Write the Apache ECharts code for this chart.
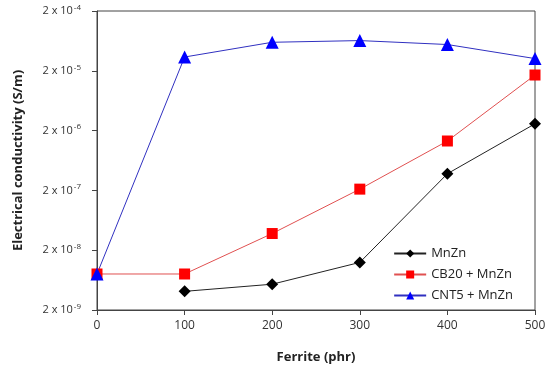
<!DOCTYPE html>
<html><head><meta charset="utf-8">
<script src="https://cdn.jsdelivr.net/npm/echarts@6/dist/echarts.min.js"></script>
<style>html,body{margin:0;padding:0;background:#fff}#c{width:550px;height:372px}</style>
</head><body><div id="c"></div>
<script>
const ferrite = [0, 100, 200, 300, 400, 500];
const mnzn = [null, 4.1e-9, 5.4e-9, 1.25e-8, 3.8e-7, 2.6e-6];
const cb20 = [8e-9, 8e-9, 3.8e-8, 2.1e-7, 1.34e-6, 1.7e-5];
const cnt5 = [8e-9, 3.4e-5, 6.0e-5, 6.4e-5, 5.5e-5, 3.2e-5];
const yTicks = [2e-9, 2e-8, 2e-7, 2e-6, 2e-5, 2e-4];

function pairs(arr){ return ferrite.map((x,i)=>[x, arr[i]]).filter(p=>p[1]!=null); }
const font = '"Open Sans", "Liberation Sans", sans-serif';
const chart = echarts.init(document.getElementById('c'));
chart.setOption({
  animation: false,
  grid: {left: 97, right: 15, top: 11, bottom: 62, show: true, borderColor: '#444', borderWidth: 1},
  xAxis: {
    type: 'value', min: 0, max: 500, interval: 100,
    name: 'Ferrite (phr)', nameLocation: 'middle', nameGap: 41,
    nameTextStyle: {fontFamily: font, fontWeight: 'bold', fontSize: 13, color: '#222'},
    axisLine: {lineStyle: {color: '#444'}},
    axisTick: {show: true, length: 5, lineStyle: {color: '#444'}},
    axisLabel: {fontFamily: font, fontSize: 12, color: '#333', margin: 10},
    splitLine: {show: false}
  },
  yAxis: {
    type: 'log', logBase: 10, min: yTicks[0], max: yTicks[yTicks.length-1], interval: 1,
    name: 'Electrical conductivity (S/m)', nameLocation: 'middle', nameGap: 72,
    nameTextStyle: {fontFamily: font, fontWeight: 'bold', fontSize: 13, color: '#222'},
    axisLine: {show: true, lineStyle: {color: '#444'}},
    axisTick: {show: true, length: 5, lineStyle: {color: '#444'}},
    axisLabel: {
      fontFamily: font, fontSize: 11, color: '#333', margin: 16,
      formatter: function(v){
        const e = Math.round(Math.log10(v/2));
        return '2 x 10{s|' + e + '}';
      },
      rich: {s: {fontSize: 8, verticalAlign: 'top', padding: [0,0,7,1], fontFamily: font, color: '#333'}}
    },
    splitLine: {show: false}
  },
  legend: {
    orient: 'vertical', right: 32, top: 242, itemGap: 8, itemWidth: 32, itemHeight: 10,
    textStyle: {fontFamily: font, fontSize: 13, color: '#222'},
    data: ['MnZn', 'CB20 + MnZn', 'CNT5 + MnZn']
  },
  series: [
    {name: 'MnZn', type: 'line', data: pairs(mnzn), symbol: 'diamond', symbolSize: 12,
     lineStyle: {color: '#222', width: 1}, itemStyle: {color: '#000'}},
    {name: 'CB20 + MnZn', type: 'line', data: pairs(cb20), symbol: 'rect', symbolSize: 11,
     lineStyle: {color: '#e05050', width: 1}, itemStyle: {color: '#ff0000'}},
    {name: 'CNT5 + MnZn', type: 'line', data: pairs(cnt5), symbol: 'triangle', symbolSize: 13,
     lineStyle: {color: '#3030c0', width: 1}, itemStyle: {color: '#0000ff'}}
  ]
});
</script></body></html>
